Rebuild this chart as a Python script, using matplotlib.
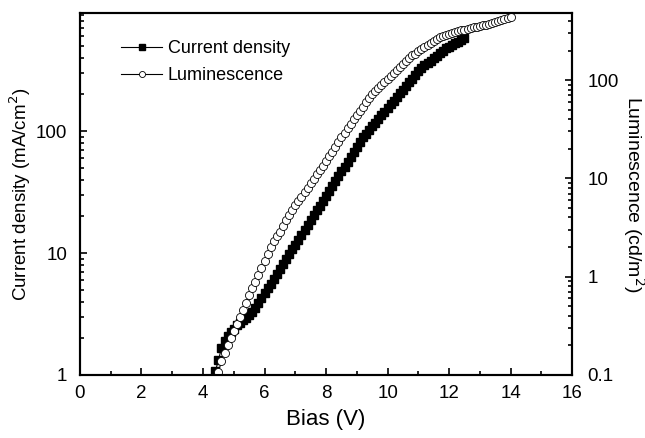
import matplotlib
matplotlib.use("Agg")
import matplotlib.pyplot as plt
from matplotlib.ticker import MultipleLocator, LogLocator, FuncFormatter

plt.rcParams['font.family'] = ['Liberation Sans', 'DejaVu Sans']

# bias sweep (V), 0.1 V steps
bias = [4.4, 4.5, 4.6, 4.7, 4.8, 4.9, 5.0, 5.1, 5.2, 5.3, 5.4, 5.5, 5.6, 5.7, 5.8, 5.9,
        6.0, 6.1, 6.2, 6.3, 6.4, 6.5, 6.6, 6.7, 6.8, 6.9, 7.0, 7.1, 7.2, 7.3, 7.4, 7.5,
        7.6, 7.7, 7.8, 7.9, 8.0, 8.1, 8.2, 8.3, 8.4, 8.5, 8.6, 8.7, 8.8, 8.9, 9.0, 9.1,
        9.2, 9.3, 9.4, 9.5, 9.6, 9.7, 9.8, 9.9, 10.0, 10.1, 10.2, 10.3, 10.4, 10.5, 10.6,
        10.7, 10.8, 10.9, 11.0, 11.1, 11.2, 11.3, 11.4, 11.5, 11.6, 11.7, 11.8, 11.9, 12.0,
        12.1, 12.2, 12.3, 12.4, 12.5, 12.6, 12.7, 12.8, 12.9, 13.0, 13.1, 13.2, 13.3, 13.4,
        13.5, 13.6, 13.7, 13.8, 13.9, 14.0]

# current density (mA/cm2), 4.4 V .. 12.5 V
current_density = [1.07, 1.32, 1.66, 1.91, 2.09, 2.24, 2.40, 2.57, 2.69, 2.82, 2.95, 3.09,
                   3.31, 3.55, 3.89, 4.27, 4.68, 5.13, 5.62, 6.17, 6.76, 7.41, 8.13, 8.91,
                   9.77, 10.7, 11.7, 12.9, 14.1, 15.5, 17.0, 18.6, 20.4, 22.4, 24.5, 26.9,
                   29.5, 32.4, 35.5, 38.9, 42.7, 46.8, 51.3, 56.2, 61.7, 67.6, 74.1, 81.3,
                   89.1, 95.5, 102, 110, 117, 126, 135, 145, 155, 166, 178, 191, 204, 219,
                   234, 251, 269, 288, 309, 327, 347, 363, 380, 398, 417, 437, 457, 479,
                   495, 513, 525, 543, 562, 582]

# luminescence (cd/m2), 4.5 V .. 14.0 V
luminescence = [0.107, 0.138, 0.166, 0.200, 0.240, 0.282, 0.331, 0.389, 0.457, 0.537,
                0.646, 0.759, 0.891, 1.05, 1.23, 1.45, 1.70, 2.00, 2.29, 2.57, 2.88, 3.31,
                3.80, 4.27, 4.79, 5.37, 5.89, 6.46, 7.24, 7.94, 8.91, 9.77, 11.0, 12.3,
                13.5, 15.1, 17.0, 18.6, 20.9, 23.4, 26.3, 28.8, 32.4, 35.5, 39.8, 43.7,
                49.0, 53.7, 60.3, 66.1, 72.4, 77.6, 83.2, 89.1, 95.5, 102, 110, 117, 126,
                135, 145, 155, 166, 178, 186, 200, 209, 219, 229, 240, 251, 263, 275, 282,
                288, 295, 302, 309, 316, 324, 327, 331, 339, 343, 347, 355, 363, 367, 372,
                380, 389, 398, 407, 417, 427, 442]

bias_j = bias[:len(current_density)]
bias_l = bias[1:1 + len(luminescence)]

fig = plt.figure(figsize=(6.45, 4.38), dpi=100)
ax = fig.add_axes([0.124, 0.144, 0.763, 0.826])
ax2 = ax.twinx()

l1, = ax.plot(bias_j, current_density, '-', color='black', lw=0.8, marker='s', ms=5.6,
              mfc='black', mec='black', label='Current density')
l2, = ax2.plot(bias_l, luminescence, '-', color='black', lw=0.8, marker='o', ms=5.8,
               mfc='white', mec='black', mew=0.6, label='Luminescence')

ax.set_xlim(0, 16)
ax.set_yscale('log')
ax.set_ylim(1, 930)
ax2.set_yscale('log')
ax2.set_ylim(0.1, 480)

fmt = FuncFormatter(lambda v, p: '%g' % v)
for a in (ax, ax2):
    a.yaxis.set_major_locator(LogLocator(base=10))
    a.yaxis.set_minor_locator(LogLocator(base=10, subs=range(2, 10)))
    a.yaxis.set_major_formatter(fmt)
    a.yaxis.set_minor_formatter(FuncFormatter(lambda v, p: ''))
    for s in a.spines.values():
        s.set_linewidth(1.5)

ax.xaxis.set_major_locator(MultipleLocator(2))
ax.xaxis.set_minor_locator(MultipleLocator(1))
ax.tick_params(which='both', direction='in', top=False, right=False, labelsize=13.5, width=1.2)
ax.tick_params(which='major', length=5)
ax.tick_params(which='minor', length=3)
ax2.tick_params(which='both', direction='in', labelsize=13.5, width=1.2)
ax2.tick_params(which='major', length=5)
ax2.tick_params(which='minor', length=3)
ax.tick_params(axis='x', pad=7)
ax.tick_params(axis='y', pad=9)
ax2.tick_params(axis='y', pad=11)

ax.set_xlabel('Bias (V)', fontsize=16, labelpad=5)
ax.set_ylabel('Current density (mA/cm$^2$)', fontsize=13.5, labelpad=2)
ax2.set_ylabel('Luminescence (cd/m$^2$)', fontsize=14, rotation=270, labelpad=20)

ax.legend([l1, l2], ['Current density', 'Luminescence'], loc='upper left',
          bbox_to_anchor=(0.05, 0.97), frameon=False, fontsize=13, markerscale=0.75,
          handlelength=2.3, handletextpad=0.3, labelspacing=0.55)

fig.savefig('out.png', dpi=100)
